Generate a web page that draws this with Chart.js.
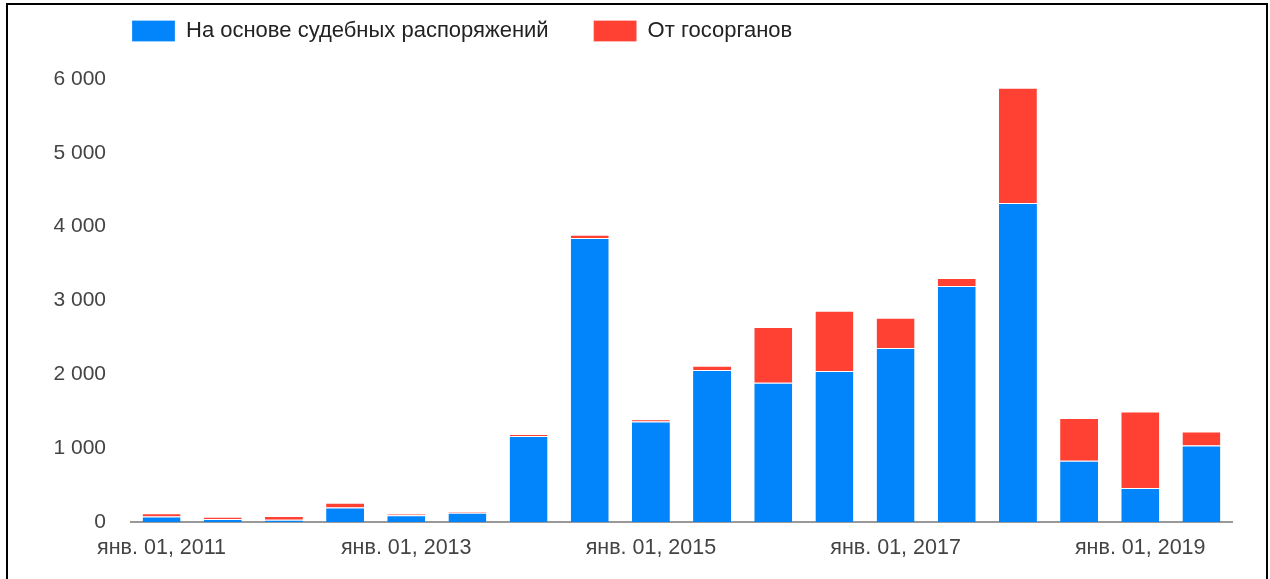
<!DOCTYPE html>
<html>
<head>
<meta charset="utf-8">
<script src="https://cdn.jsdelivr.net/npm/chart.js@4"></script>
<style>
  html, body { margin: 0; padding: 0; background: #fff; overflow: hidden; }
  #frame { position: absolute; left: 6px; top: 3px; width: 1258px; height: 600px; border: 2px solid #000; border-bottom: none; }
  #chart { position: absolute; left: 0; top: 0; }
</style>
</head>
<body>
<div id="frame"></div>
<canvas id="chart" width="1270" height="579"></canvas>
<script>
// half-year periods, Jan 2011 .. Jul 2019
const periods = [
  'янв. 01, 2011', 'июл. 01, 2011', 'янв. 01, 2012', 'июл. 01, 2012',
  'янв. 01, 2013', 'июл. 01, 2013', 'янв. 01, 2014', 'июл. 01, 2014',
  'янв. 01, 2015', 'июл. 01, 2015', 'янв. 01, 2016', 'июл. 01, 2016',
  'янв. 01, 2017', 'июл. 01, 2017', 'янв. 01, 2018', 'июл. 01, 2018',
  'янв. 01, 2019', 'июл. 01, 2019'
];
const courtOrders = [75, 40, 30, 195, 90, 125, 1165, 3845, 1360, 2060, 1885, 2045, 2355, 3195, 4320, 830, 460, 1035];
const govBodies   = [45, 30, 50, 65, 20, 15, 25, 45, 30, 55, 755, 815, 410, 110, 1560, 580, 1035, 190];
const yTicks = [0, 1000, 2000, 3000, 4000, 5000, 6000];
const yTickLabels = ['0', '1 000', '2 000', '3 000', '4 000', '5 000', '6 000'];
const labelEvery = 4;

const FONT = 'Liberation Sans, Arial, sans-serif';
const LEGEND_PAD = 45;

// legend sits over the plot's left edge, with a gap below it
const legendPlace = {
  id: 'legendPlace',
  afterInit(chart) {
    const lg = chart.legend;
    if (!lg) return;
    const fit = lg.fit;
    lg.fit = function () { fit.call(this); this.height += 27; };
  },
  afterLayout(chart) {
    if (chart.legend) chart.legend.left = chart.chartArea.left + 1 - LEGEND_PAD;
  }
};

const ctx = document.getElementById('chart').getContext('2d');
new Chart(ctx, {
  type: 'bar',
  data: {
    labels: periods,
    datasets: [{
      label: 'На основе судебных распоряжений',
      data: courtOrders,
      backgroundColor: '#0284fb',
      borderColor: '#ffffff',
      borderWidth: { top: 1, left: 0, right: 0, bottom: 0 },
      borderSkipped: false
    }, {
      label: 'От госорганов',
      data: govBodies,
      backgroundColor: '#fe4132',
      borderColor: '#ffffff',
      borderWidth: { top: 1, left: 0, right: 0, bottom: 0 },
      borderSkipped: false
    }]
  },
  options: {
    responsive: false,
    animation: false,
    maintainAspectRatio: false,
    layout: { padding: { left: 0, right: 38, top: -25, bottom: 0 } },
    datasets: { bar: { categoryPercentage: 1, barPercentage: 0.62 } },
    plugins: {
      legend: {
        position: 'top',
        align: 'start',
        labels: {
          boxWidth: 43,
          boxHeight: 21,
          padding: LEGEND_PAD,
          color: '#222',
          font: { family: FONT, size: 22 }
        }
      },
      tooltip: { enabled: false }
    },
    scales: {
      x: {
        stacked: true,
        grid: { display: false, drawTicks: false },
        border: { display: true, color: '#999', width: 2 },
        ticks: {
          autoSkip: false,
          maxRotation: 0,
          padding: 13,
          color: '#444',
          font: { family: FONT, size: 21.5 },
          callback: (v, i) => (i % labelEvery === 0 ? periods[i] : '')
        },
        afterFit: (s) => { s.height = 57; }
      },
      y: {
        stacked: true,
        min: yTicks[0],
        max: yTicks[yTicks.length - 1],
        afterBuildTicks: (s) => { s.ticks = yTicks.map(v => ({ value: v })); },
        grid: { display: false, drawTicks: false },
        border: { display: false },
        ticks: {
          padding: 25,
          color: '#444',
          font: { family: FONT, size: 21 },
          callback: (v, i) => yTickLabels[i]
        },
        afterFit: (s) => { s.width = 131; }
      }
    }
  },
  plugins: [legendPlace]
});
</script>
</body>
</html>
